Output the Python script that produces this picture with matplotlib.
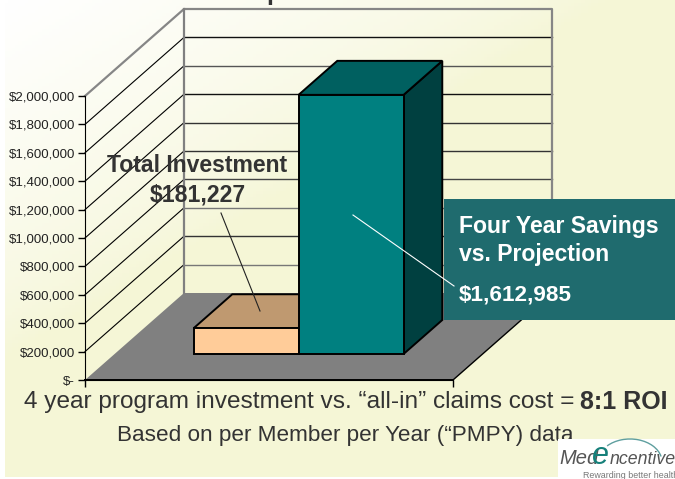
import numpy as np
import matplotlib
matplotlib.use("Agg")
import matplotlib.pyplot as plt
from matplotlib.colors import LinearSegmentedColormap
from matplotlib.patches import Arc, Polygon, Rectangle

# values
series_names = ["Total Investment", "Four Year Savings"]
series_values = [181227, 1825000]
y_ticks = [0, 200000, 400000, 600000, 800000, 1000000, 1200000, 1400000, 1600000, 1800000, 2000000]
y_tick_labels = ["$-", "$200,000", "$400,000", "$600,000", "$800,000", "$1,000,000",
                 "$1,200,000", "$1,400,000", "$1,600,000", "$1,800,000", "$2,000,000"]

W, H = 675, 479
plt.rcParams["font.family"] = ["Liberation Sans", "DejaVu Sans"]
fig = plt.figure(figsize=(W / 100, H / 100), dpi=100, facecolor="white")

def px_axes(x0, y0, x1, y1):
    # axes box given in image pixels, y going down
    return fig.add_axes([x0 / W, 1 - y1 / H, (x1 - x0) / W, (y1 - y0) / H])

# page background, pixel coordinates
bg = fig.add_axes([0, 0, 1, 1])
xx, yy = np.meshgrid(np.linspace(0, 1, 200), np.linspace(0, 1, 150))
grad = np.clip(1 - (xx / 0.9 + yy / 0.75), 0, 1) ** 0.7
cmap = LinearSegmentedColormap.from_list("page", ["#F5F6D6", "#FFFFFF"])
bg.imshow(grad, extent=(5, W, 477, 0), cmap=cmap, aspect="auto", vmin=0, vmax=1, zorder=0)
bg.set_xlim(0, W)
bg.set_ylim(H, 0)
bg.axis("off")

# chart, the front plane of the 3d box
ax = px_axes(85, 96, 453, 380)
ax.patch.set_alpha(0)
ax.set_xlim(0, 1)
ax.set_ylim(0, 2000000)
ax.set_yticks(y_ticks)
ax.set_yticklabels(y_tick_labels, fontsize=9.5, color="#222222")
ax.set_xticks([0, 1])
ax.set_xticklabels([])
ax.tick_params(axis="both", length=5, width=1, color="black", pad=2)
for s in ["top", "right"]:
    ax.spines[s].set_visible(False)

depth_x = 99 / 368
depth_y = 87 / 284 * 2000000

def proj(x, y, z):
    return (x + z * depth_x, y + z * depth_y)

def face(pts, color, edge="none", lw=1.0, zorder=2):
    ax.add_patch(Polygon([proj(*p) for p in pts], closed=True, facecolor=color,
                         edgecolor=edge, linewidth=lw, clip_on=False, zorder=zorder))

# floor and walls
face([(0, 0, 0), (1, 0, 0), (1, 0, 1), (0, 0, 1)], "#808080", zorder=1)
ax.plot([1, 1 + depth_x], [0, depth_y], color="black", lw=1, clip_on=False, zorder=1.2)
ax.plot([0, 1], [0, 0], color="black", lw=1.4, clip_on=False, zorder=1.2)

# back wall lines come out in uneven greys, bottom to top
grid_cols = ["#777777", "#333333", "#777777", "#444444", "#333333", "#333333", "#111111", "#555555", "#111111"]
for v, c in zip(y_ticks[1:-1], grid_cols):
    xs, ys = zip(proj(0, v, 0), proj(0, v, 1))
    ax.plot(xs, ys, color="black", lw=0.8, clip_on=False, zorder=1.1)
    xs, ys = zip(proj(0, v, 1), proj(1, v, 1))
    ax.plot(xs, ys, color=c, lw=1, clip_on=False, zorder=1.1)
xs, ys = zip(proj(0, 2000000, 0), proj(0, 2000000, 1), proj(1, 2000000, 1), proj(1, 0, 1))
ax.plot(xs, ys, color="#868686", lw=1.6, clip_on=False, zorder=1.15)
xs, ys = zip(proj(0, 0, 1), proj(0, 2000000, 1))
ax.plot(xs, ys, color="#808080", lw=1.6, clip_on=False, zorder=1.15)

# bars
gap = 79 / 368
bar_w = 105 / 368
z0, z1 = 26 / 87, 60 / 87
bar_cols = [("#FFCC99", "#BF9970", "#7F6644"), ("#008080", "#006060", "#004040")]
for i, val in enumerate(series_values):
    x0 = gap + i * bar_w
    x1 = x0 + bar_w
    front, top_col, side = bar_cols[i]
    face([(x1, 0, z0), (x1, 0, z1), (x1, val, z1), (x1, val, z0)], side, "black", 1.4, 3 + i)
    face([(x0, val, z0), (x1, val, z0), (x1, val, z1), (x0, val, z1)], top_col, "black", 1.4, 3 + i)
    face([(x0, 0, z0), (x1, 0, z0), (x1, val, z0), (x0, val, z0)], front, "black", 1.4, 3 + i)

# callouts and text, pixel coordinates
top = fig.add_axes([0, 0, 1, 1])
top.set_xlim(0, W)
top.set_ylim(H, 0)
top.axis("off")
top.patch.set_alpha(0)

top.add_patch(Rectangle((444, 199), 231, 121, facecolor="#1F6B6E", edgecolor="none"))
top.plot([353, 454], [215, 286], color="white", lw=0.8)
top.plot([221, 260], [213, 311], color="#222222", lw=0.8)

top.text(197, 165, "Total Investment", fontsize=16.6, fontweight="bold", color="#333333", ha="center", va="center")
top.text(198, 195, "$181,227", fontsize=16.6, fontweight="bold", color="#333333", ha="center", va="center")
top.text(459, 226, "Four Year Savings", fontsize=16.6, fontweight="bold", color="white", va="center")
top.text(459, 255, "vs. Projection", fontsize=16.6, fontweight="bold", color="white", va="center")
top.text(459, 295, "$1,612,985", fontsize=16.2, fontweight="bold", color="white", va="center")

top.text(575, 402, "4 year program investment vs. “all-in” claims cost =", fontsize=17.6, color="#333333", ha="right", va="center")
top.text(668, 402, "8:1 ROI", fontsize=18, fontweight="bold", color="#333333", ha="right", va="center")
top.text(345, 435, "Based on per Member per Year (“PMPY) data", fontsize=16.2, color="#333333", ha="center", va="center")

# cut off title at the top edge
top.text(274, 0, "p", fontsize=18, fontweight="bold", color="#333333", ha="center", va="baseline", clip_on=True)

# logo
top.add_patch(Rectangle((558, 439), 117, 40, facecolor="white", edgecolor="none", zorder=5))
top.add_patch(Arc((630, 462), 64, 46, theta1=215, theta2=350, color="#5F9F9F", lw=1, zorder=6))
top.text(559, 459, "Med", fontsize=14.5, style="italic", color="#555555", va="center", zorder=6)
top.text(592, 456, "e", fontsize=22, style="italic", color="#16807A", va="center", zorder=6)
top.text(610, 459, "ncentive", fontsize=12.8, style="italic", color="#555555", va="center", zorder=6)
top.text(583, 475, "Rewarding better health", fontsize=6.4, color="#777777", va="center", zorder=6)

fig.savefig("out.png", dpi=100)
